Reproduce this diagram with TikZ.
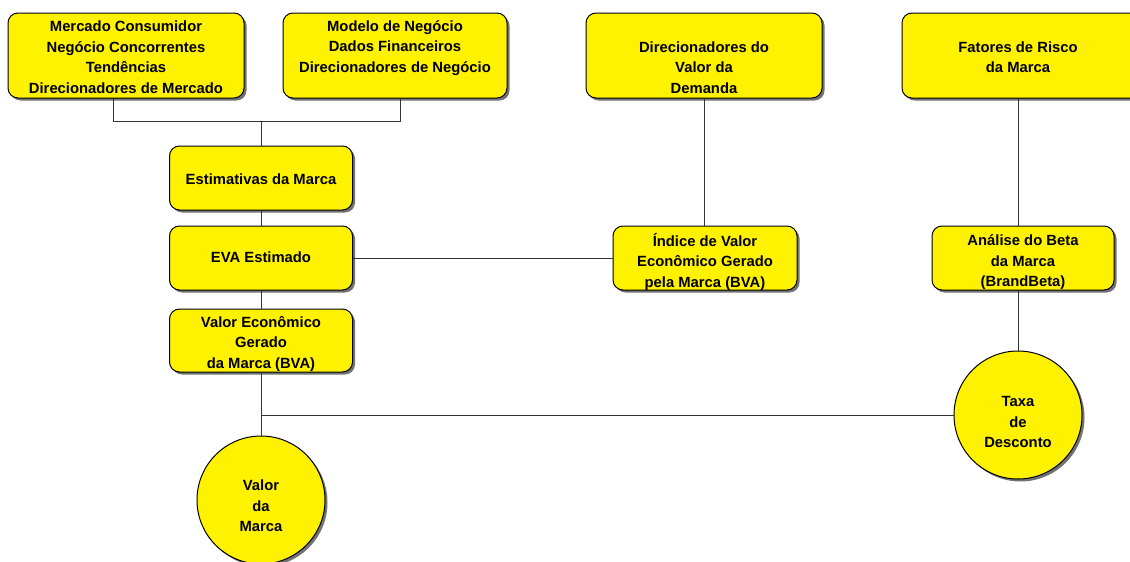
\documentclass[tikz,border=0pt]{standalone}
\usepackage{fontspec}
\setmainfont{Liberation Sans}
\usetikzlibrary{shadows}
\begin{document}
\begin{tikzpicture}[x=1pt,y=-1pt,
  lbl/.style={font=\fontsize{14.8}{20.5}\selectfont\bfseries, align=center, inner sep=0pt, text depth=0pt},
  shade/.style={drop shadow={shadow xshift=2.5pt, shadow yshift=-2.5pt, fill=black!65, opacity=0.85}},
  box/.style={draw=black, line width=1pt, fill=yellow, rounded corners=10pt, inner sep=0pt, shade},
  disc/.style={circle, draw=black, line width=1pt, fill=yellow, minimum size=128pt, inner sep=0pt, shade},
  link/.style={draw=black!80, line width=0.9pt}]
\clip (0,0) rectangle (1130,562);

% top row of source boxes
\node[box, minimum width=236pt, minimum height=85pt] (b1) at (126,55.5) {};
\node[box, minimum width=224pt, minimum height=85pt] (b2) at (395,55.5) {};
\node[box, minimum width=236pt, minimum height=85pt] (b3) at (704,55.5) {};
\node[box, minimum width=244pt, minimum height=85pt] (b4) at (1024,55.5) {};
\node[lbl] (b1t) at (126,57) {Mercado Consumidor\\Negócio Concorrentes\\Tendências\\Direcionadores de Mercado};
\node[lbl] (b2t) at (395,46.5) {Modelo de Negócio\\Dados Financeiros\\Direcionadores de Negócio};
\node[lbl] (b3t) at (704,67.5) {Direcionadores do\\Valor da\\Demanda};
\node[lbl] (b4t) at (1018,57) {Fatores de Risco\\da Marca};

% left column
\node[box, minimum width=183pt, minimum height=64pt] (est) at (261,178) {};
\node[box, minimum width=183pt, minimum height=64pt] (eva) at (261,258) {};
\node[box, minimum width=183pt, minimum height=63pt] (vbva) at (261,340.5) {};
\node[lbl] (estt) at (261,179) {Estimativas da Marca};
\node[lbl] (evat) at (261,257) {EVA Estimado};
\node[lbl] (vbvat) at (261,342) {Valor Econômico\\Gerado\\da Marca (BVA)};

% middle and right
\node[box, minimum width=184pt, minimum height=64pt] (ind) at (705,258) {};
\node[box, minimum width=182pt, minimum height=64pt] (ana) at (1023,258) {};
\node[lbl] (indt) at (705,260) {Índice de Valor\\Econômico Gerado\\pela Marca (BVA)};
\node[lbl] (anat) at (1023,261) {Análise do Beta\\da Marca\\(BrandBeta)};

% circles
\node[disc] (taxa) at (1018,415) {};
\node[lbl] (taxat) at (1018,422) {Taxa\\de\\Desconto};
\node[disc] (vm) at (261,500) {};
\node[lbl] (vmt) at (261,506) {Valor\\da\\Marca};

% connectors
\coordinate (j1) at (261,121);
\draw[link] ([xshift=-13pt]b1.south) |- (j1);
\draw[link] ([xshift=5pt]b2.south) |- (j1);
\draw[link] (j1) -- (est.north);
\draw[link] (est.south) -- (eva.north);
\draw[link] (eva.south) -- (vbva.north);
\draw[link] (vbva.south) -- (vm.north);
\draw[link] (eva.east) -- (ind.west);
\draw[link] (b3.south) -- (b3.south |- ind.north);
\draw[link] ([xshift=-6pt]b4.south) -- ([xshift=-6pt]b4.south |- ana.north);
\draw[link] (taxa.north |- ana.south) -- (taxa.north);
\draw[link] (taxa.west) -- (taxa.west -| vm.north);
\end{tikzpicture}
\end{document}
